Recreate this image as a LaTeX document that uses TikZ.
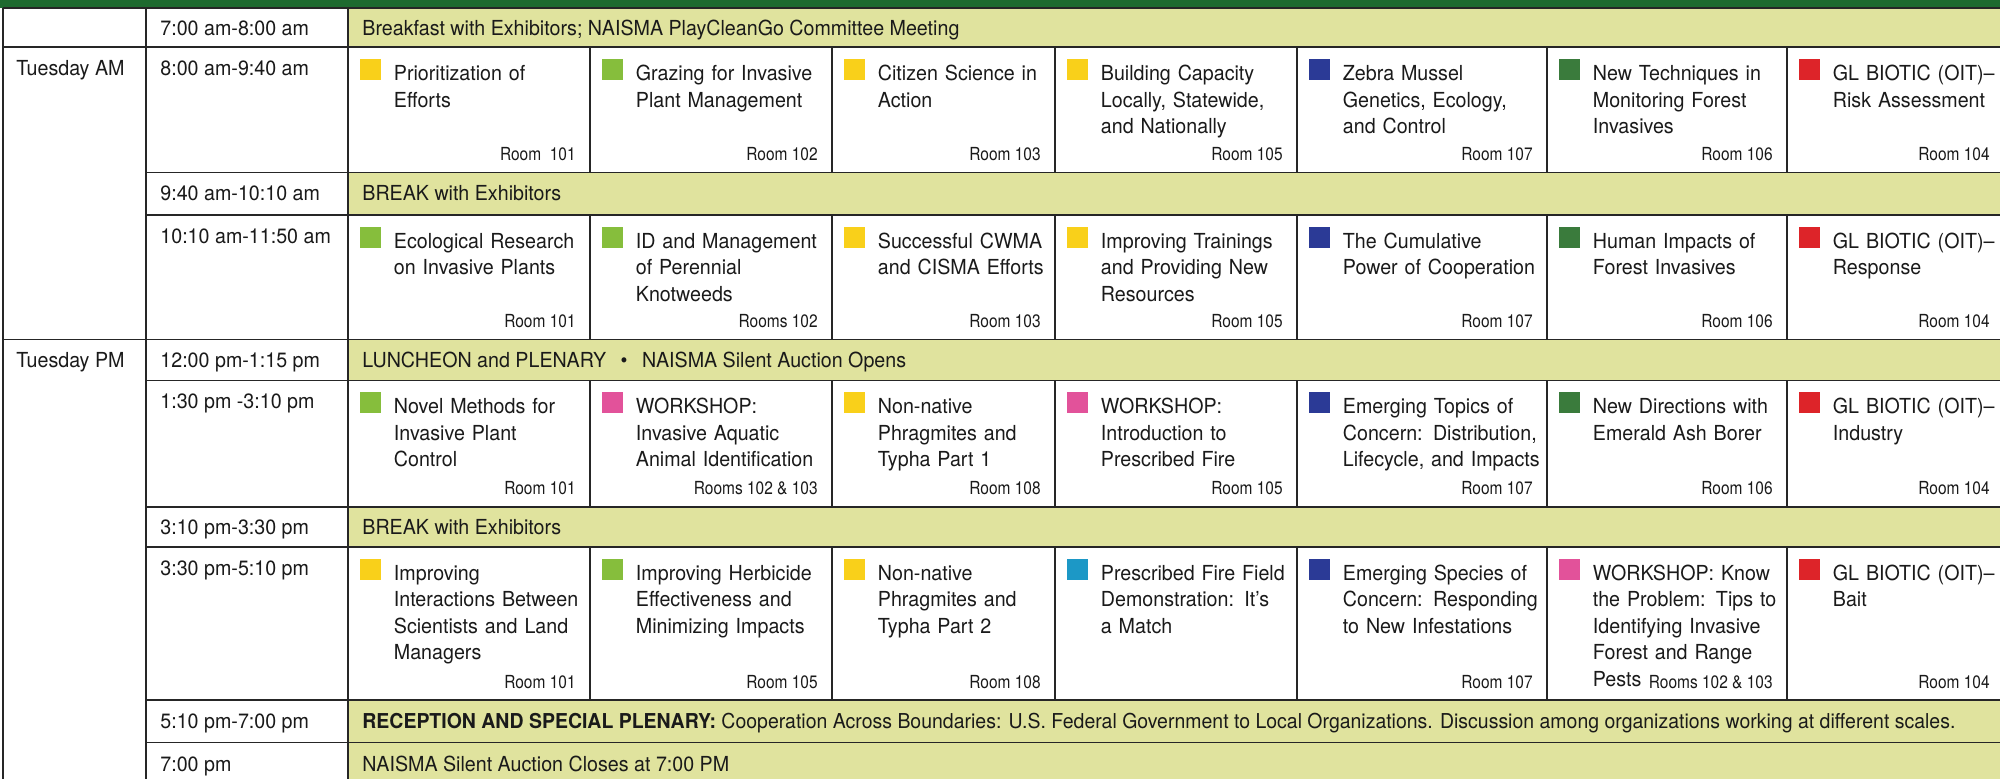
\documentclass[tikz,border=0pt]{standalone}
\usepackage{fontspec}
\setmainfont[FakeStretch=0.95]{TeX Gyre Heros}
\newfontfamily\roomfont[FakeStretch=0.86]{TeX Gyre Heros}
\definecolor{cYel}{HTML}{F9D01A}
\definecolor{cLgr}{HTML}{86BE3C}
\definecolor{cDgr}{HTML}{3A7B3C}
\definecolor{cBlu}{HTML}{2B3A96}
\definecolor{cRed}{HTML}{DD2429}
\definecolor{cPnk}{HTML}{E2529A}
\definecolor{cTea}{HTML}{1C98C6}
\definecolor{cBrk}{HTML}{E0E39E}
\definecolor{cBar}{HTML}{1E6A2F}
\definecolor{cLine}{HTML}{262626}
\definecolor{cInk}{HTML}{1A1A1A}
\tikzset{
  gridline/.style={draw=cLine, line width=0.9pt},
  sesstext/.style={anchor=base west, inner sep=0pt, align=left, text width=118pt, text=cInk, font=\fontsize{10.35}{13.25}\selectfont},
  roomtext/.style={anchor=base east, inner sep=0pt, text=cInk, font=\roomfont\fontsize{9}{10}\selectfont},
  rowtext/.style={anchor=base west, inner sep=0pt, text=cInk, font=\fontsize{10.35}{12}\selectfont},
  breakfill/.style={fill=cBrk},
}
% #1 name, #2 left, #3 right, #4 top, #5 bottom, #6 colour, #7 title, #8 room
\newcommand\sess[8]{%
  \fill[#6] (#2+12,#4+12) rectangle (#2+33,#4+33);
  \node[sesstext] (#1) at (#2+45.5,#4+33.5) {#7};
  \node[roomtext] (#1r) at (#3-14,#5-12) {#8};
}
\begin{document}
\begin{tikzpicture}[x=0.5pt,y=-0.5pt]
\useasboundingbox (0,0) rectangle (2000,779);
\fill[white] (0,0) rectangle (2000,779);
% header bar
\fill[cBar] (0,0) rectangle (2000,8);
% plenary / break bands
\fill[breakfill] (348,8) rectangle (2000,47.3);
\fill[breakfill] (348,172.5) rectangle (2000,215);
\fill[breakfill] (348,339.5) rectangle (2000,380.5);
\fill[breakfill] (348,507) rectangle (2000,547);
\fill[breakfill] (348,700) rectangle (2000,779);
% grid
\draw[gridline] (3,8) -- (2000,8);
\draw[gridline] (3,8) -- (3,779);
\draw[gridline] (146,8) -- (146,779);
\draw[gridline] (348,8) -- (348,779);
\foreach \y in {47.3,339.5} \draw[gridline] (3,\y) -- (2000,\y);
\foreach \y in {172.5,215,380.5,507,547,700,742.5} \draw[gridline] (146,\y) -- (2000,\y);
\foreach \x in {590,832,1055,1297,1547,1787} {
  \draw[gridline] (\x,47.3) -- (\x,172.5);
  \draw[gridline] (\x,215) -- (\x,339.5);
  \draw[gridline] (\x,380.5) -- (\x,507);
  \draw[gridline] (\x,547) -- (\x,700);
}
% day column
\node[rowtext] (dayam) at (16,75.8) {Tuesday AM};
\node[rowtext] (daypm) at (16,368) {Tuesday PM};
% time column
\node[rowtext] (t1) at (160,35.5) {7:00 am-8:00 am};
\node[rowtext] (t2) at (160,75.8) {8:00 am-9:40 am};
\node[rowtext] (t3) at (160,201) {9:40 am-10:10 am};
\node[rowtext] (t4) at (160,243.5) {10:10 am-11:50 am};
\node[rowtext] (t5) at (160,368) {12:00 pm-1:15 pm};
\node[rowtext] (t6) at (160,409) {1:30 pm -3:10 pm};
\node[rowtext] (t7) at (160,535) {3:10 pm-3:30 pm};
\node[rowtext] (t8) at (160,575.5) {3:30 pm-5:10 pm};
\node[rowtext] (t9) at (160,728.5) {5:10 pm-7:00 pm};
\node[rowtext] (t10) at (160,771) {7:00 pm};
% full-width rows
\node[rowtext] (b1) at (362,35.5) {Breakfast with Exhibitors; NAISMA PlayCleanGo Committee Meeting};
\node[rowtext] (b3) at (362,201) {BREAK with Exhibitors};
\node[rowtext] (b5) at (362,368) {LUNCHEON and PLENARY\hspace{0.7em}\textbullet\hspace{0.7em}NAISMA Silent Auction Opens};
\node[rowtext] (b7) at (362,535) {BREAK with Exhibitors};
\node[rowtext, font=\fontsize{10.25}{12}\selectfont] (b9) at (362,728.5) {\textbf{RECEPTION AND SPECIAL PLENARY:} Cooperation Across Boundaries: U.S. Federal Government to Local Organizations. Discussion among organizations working at different scales.};
\node[rowtext] (b10) at (362,771) {NAISMA Silent Auction Closes at 7:00 PM};
% 8:00 am - 9:40 am
\sess{a1}{348}{590}{47.3}{172.5}{cYel}{Prioritization of\\Efforts}{Room~~101}
\sess{a2}{590}{832}{47.3}{172.5}{cLgr}{Grazing for Invasive\\Plant Management}{Room 102}
\sess{a3}{832}{1055}{47.3}{172.5}{cYel}{Citizen Science in\\Action}{Room 103}
\sess{a4}{1055}{1297}{47.3}{172.5}{cYel}{Building Capacity\\Locally, Statewide,\\and Nationally}{Room 105}
\sess{a5}{1297}{1547}{47.3}{172.5}{cBlu}{Zebra Mussel\\Genetics, Ecology,\\and Control}{Room 107}
\sess{a6}{1547}{1787}{47.3}{172.5}{cDgr}{New Techniques in\\Monitoring Forest\\Invasives}{Room 106}
\sess{a7}{1787}{2004}{47.3}{172.5}{cRed}{GL BIOTIC (OIT)–\\Risk Assessment}{Room 104}
% 10:10 am - 11:50 am
\sess{c1}{348}{590}{215}{339.5}{cLgr}{Ecological Research\\on Invasive Plants}{Room 101}
\sess{c2}{590}{832}{215}{339.5}{cLgr}{ID and Management\\of Perennial\\Knotweeds}{Rooms 102}
\sess{c3}{832}{1055}{215}{339.5}{cYel}{Successful CWMA\\and CISMA Efforts}{Room 103}
\sess{c4}{1055}{1297}{215}{339.5}{cYel}{Improving Trainings\\and Providing New\\Resources}{Room 105}
\sess{c5}{1297}{1547}{215}{339.5}{cBlu}{The Cumulative\\Power of Cooperation}{Room 107}
\sess{c6}{1547}{1787}{215}{339.5}{cDgr}{Human Impacts of\\Forest Invasives}{Room 106}
\sess{c7}{1787}{2004}{215}{339.5}{cRed}{GL BIOTIC (OIT)–\\Response}{Room 104}
% 1:30 pm - 3:10 pm
\sess{e1}{348}{590}{380.5}{507}{cLgr}{Novel Methods for\\Invasive Plant\\Control}{Room 101}
\sess{e2}{590}{832}{380.5}{507}{cPnk}{WORKSHOP:\\Invasive Aquatic\\Animal Identification}{Rooms 102 \& 103}
\sess{e3}{832}{1055}{380.5}{507}{cYel}{Non-native\\Phragmites and\\Typha Part 1}{Room 108}
\sess{e4}{1055}{1297}{380.5}{507}{cPnk}{WORKSHOP:\\Introduction to\\Prescribed Fire}{Room 105}
\sess{e5}{1297}{1547}{380.5}{507}{cBlu}{Emerging Topics of\\Concern: Distribution,\\Lifecycle, and Impacts}{Room 107}
\sess{e6}{1547}{1787}{380.5}{507}{cDgr}{New Directions with\\Emerald Ash Borer}{Room 106}
\sess{e7}{1787}{2004}{380.5}{507}{cRed}{GL BIOTIC (OIT)–\\Industry}{Room 104}
% 3:30 pm - 5:10 pm
\sess{g1}{348}{590}{547}{700}{cYel}{Improving\\Interactions Between\\Scientists and Land\\Managers}{Room 101}
\sess{g2}{590}{832}{547}{700}{cLgr}{Improving Herbicide\\Effectiveness and\\Minimizing Impacts}{Room 105}
\sess{g3}{832}{1055}{547}{700}{cYel}{Non-native\\Phragmites and\\Typha Part 2}{Room 108}
\sess{g4}{1055}{1297}{547}{700}{cTea}{Prescribed Fire Field\\Demonstration: It’s\\a Match}{}
\sess{g5}{1297}{1547}{547}{700}{cBlu}{Emerging Species of\\Concern: Responding\\to New Infestations}{Room 107}
\sess{g6}{1547}{1787}{547}{700}{cPnk}{WORKSHOP: Know\\the Problem: Tips to\\Identifying Invasive\\Forest and Range\\Pests}{Rooms 102 \& 103}
\sess{g7}{1787}{2004}{547}{700}{cRed}{GL BIOTIC (OIT)–\\Bait}{Room 104}
\end{tikzpicture}
\end{document}
